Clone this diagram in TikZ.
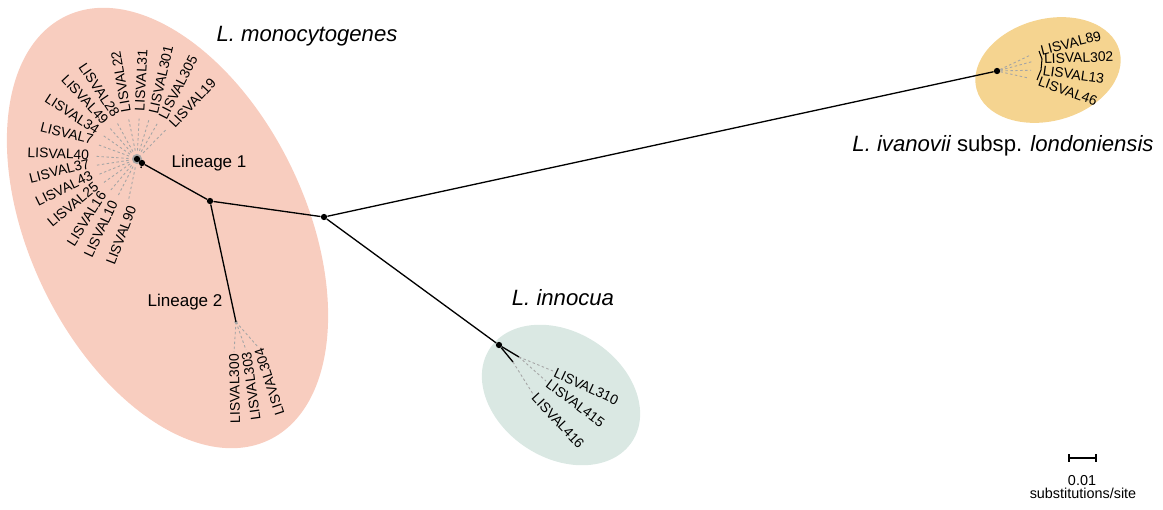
\documentclass[tikz,border=0pt]{standalone}
\usepackage{fontspec}
\setmainfont{Liberation Sans}
\usepackage{tikz}
\usetikzlibrary{positioning}

\definecolor{monofill}{RGB}{248,205,191}
\definecolor{innofill}{RGB}{218,232,227}
\definecolor{ivafill}{RGB}{245,212,144}
\definecolor{tipgray}{RGB}{165,165,165}

\begin{document}
\begin{tikzpicture}[x=0.02cm, y=-0.02cm,
    dot/.style={circle, fill=black, inner sep=0pt, minimum size=3.6pt},
    branch/.style={line width=0.75pt},
    tipline/.style={tipgray, line width=0.5pt, dash pattern=on 1.4pt off 1.4pt},
    tip/.style={inner sep=1pt, font=\fontsize{7.9}{9}\selectfont},
    lineage/.style={font=\fontsize{9.7}{11}\selectfont},
    species/.style={font=\fontsize{12.6}{15}\selectfont\itshape},
    scaletext/.style={inner sep=0pt, font=\fontsize{8.2}{10}\selectfont}]
    \useasboundingbox (0,0) rectangle (1163,510);

    % species clouds
    \fill [monofill] (167.5,228) ellipse [x radius=235, y radius=138, rotate=-64.4];
    \fill [innofill] (561,395) ellipse [x radius=85, y radius=63, rotate=-33];
    \fill [ivafill] (1048,70) ellipse [x radius=74, y radius=51, rotate=15];

    % inner nodes
    \coordinate (l2) at (236,322);
    \coordinate (l1t) at (141,168);
    \coordinate (inna) at (519,357);
    \coordinate (innb) at (513,362);
    \draw [tipgray, line width=1.1pt] (137,159) circle [radius=4];
    \fill [tipgray] (l2) circle [radius=1.8];
    \node[dot] (c) at (324,217) {};
    \node[dot] (m) at (210,201) {};
    \node[dot] (l1) at (142,163) {};
    \node[dot] (hub) at (137,159) {};
    \node[dot] (inn) at (499,345) {};
    \node[dot] (iva) at (997,71) {};

    % branches
    \draw [branch] (c) -- (m);
    \draw [branch] (m) -- (l1);
    \draw [branch] (l1) -- (hub);
    \draw [branch] (l1) -- (l1t);
    \draw [branch] (m) -- (l2);
    \draw [branch] (c) -- (inn);
    \draw [branch] (inn) -- (inna);
    \draw [branch] (inn) -- (innb);
    \draw [branch] (c) -- (iva);

    % lineage 1 fan
    \foreach \pos/\rot/\name in {44/47/19, 58/63/305, 70/77/301, 87/87/31, 103/100/22}{
        \node[tip, anchor=west, rotate=\rot] (t\name) at ([shift={(hub)}] -\pos:46) {LISVAL\name};
        \draw [tipline, shorten <=0.1cm, shorten >=0.08cm] (hub) -- (t\name);
    }
    \foreach \pos/\rot/\name in {115/-56/28, 130/-47/49, 144/-33/34, 156/-14/7, 175/-2/40, 185/14/37, 199/26/43, 212/40/25, 224/58/16, 241/65/10, 265/69/90}{
        \node[tip, anchor=east, rotate=\rot] (t\name) at ([shift={(hub)}] -\pos:46) {LISVAL\name};
        \draw [tipline, shorten <=0.1cm, shorten >=0.08cm] (hub) -- (t\name);
    }

    % lineage 2 tips
    \node[tip, anchor=east, rotate=91] (t300) at (234,352) {LISVAL300};
    \node[tip, anchor=east, rotate=98] (t303) at (246,350) {LISVAL303};
    \node[tip, anchor=east, rotate=108] (t304) at (258,347) {LISVAL304};
    \foreach \name in {300,303,304}
        \draw [tipline] (l2) -- (t\name.east);

    % innocua tips
    \node[tip, anchor=west, rotate=-25] (t310) at (553,371) {LISVAL310};
    \node[tip, anchor=west, rotate=-37] (t415) at (546,381) {LISVAL415};
    \node[tip, anchor=west, rotate=-47] (t416) at (533,394) {LISVAL416};
    \draw [tipline] (inna) -- (t310.west);
    \draw [tipline] (inna) -- (t415.west);
    \draw [tipline] (innb) -- (t416.west);

    % ivanovii tips
    \node[tip, anchor=west, rotate=14] (t89) at (1039,51) {LISVAL89};
    \node[tip, anchor=west, rotate=2] (t302) at (1042,59) {LISVAL302};
    \node[tip, anchor=west, rotate=-8] (t13) at (1041,70) {LISVAL13};
    \node[tip, anchor=west, rotate=-20] (t46) at (1037,80) {LISVAL46};
    \foreach \name in {89,302,13,46}
        \draw [tipline, shorten >=0.2cm] (iva) -- (t\name.west);
    \draw [line width=0.6pt] (t89.west) -- (t302.west) -- (t13.west) -- (t46.west);

    % labels
    \node[species] (tmono) at (307,36) {L. monocytogenes};
    \node[species] (tinno) at (563,298) {L. innocua};
    \node[species] (tiva) at (1003,146) {L. ivanovii \upshape subsp. \itshape londoniensis};
    \node[lineage] (lin1) at (209,163) {Lineage 1};
    \node[lineage] (lin2) at (185,302) {Lineage 2};

    % scale bar
    \coordinate (sba) at (1069,458);
    \coordinate (sbb) at (1096,458);
    \draw [line width=0.6pt] (sba) -- (sbb);
    \draw [line width=0.6pt] ([yshift=0.08cm] sba) -- ([yshift=-0.08cm] sba);
    \draw [line width=0.6pt] ([yshift=0.08cm] sbb) -- ([yshift=-0.08cm] sbb);
    \node[scaletext] (sb1) at (1082,481) {0.01};
    \node[scaletext] (sb2) at (1083,493) {substitutions/site};
\end{tikzpicture}
\end{document}
